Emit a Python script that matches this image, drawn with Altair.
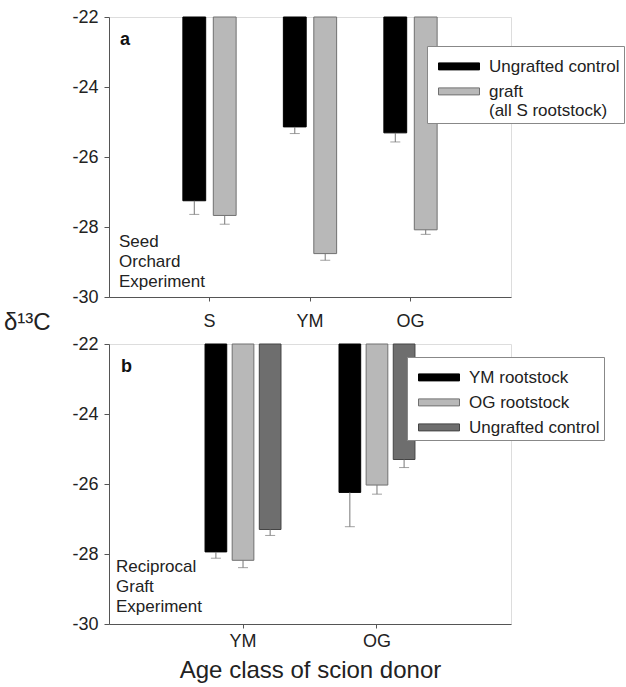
import altair as alt
import pandas as pd

FONT = "Liberation Sans"

# ---------------- Panel a: Seed Orchard Experiment ----------------
a_cats = ["S", "YM", "OG"]
a_series = ["Ungrafted control", "graft"]
a_control = [-27.25, -25.14, -25.31]
a_control_err = [0.39, 0.19, 0.26]
a_graft = [-27.67, -28.76, -28.08]
a_graft_err = [0.25, 0.19, 0.13]

# ---------------- Panel b: Reciprocal Graft Experiment ----------------
b_cats = ["YM", "OG"]
b_series = ["YM rootstock", "OG rootstock", "Ungrafted control"]
b_ym = [-27.94, -26.24]
b_ym_err = [0.18, 0.98]
b_og = [-28.18, -26.03]
b_og_err = [0.21, 0.26]
b_ctrl = [-27.30, -25.30]
b_ctrl_err = [0.17, 0.23]

BASE = -22
Y_TICKS = [-30, -28, -26, -24, -22]

rows_a = []
for i, c in enumerate(a_cats):
    rows_a.append(dict(cat=c, series=a_series[0], value=a_control[i], err=a_control[i] - a_control_err[i], base=BASE))
    rows_a.append(dict(cat=c, series=a_series[1], value=a_graft[i], err=a_graft[i] - a_graft_err[i], base=BASE))
df_a = pd.DataFrame(rows_a)

rows_b = []
for i, c in enumerate(b_cats):
    for s, v, e in zip(b_series, [b_ym, b_og, b_ctrl], [b_ym_err, b_og_err, b_ctrl_err]):
        rows_b.append(dict(cat=c, series=s, value=v[i], err=v[i] - e[i], base=BASE))
df_b = pd.DataFrame(rows_b)

W, H = 402, 280
yscale = alt.Scale(domain=[-30, -22], nice=False, zero=False)

def yaxis():
    return alt.Axis(values=Y_TICKS, title=None, grid=False, labelFontSize=18, labelFont=FONT,
                    labelColor="#222", tickSize=5, tickColor="#555", domainColor="#555",
                    labelPadding=6, labelExpr="'' + datum.value")

# wide, flat swatch; layout size kept tiny (sqrt(4) = 2 px) so rows stay compact
SWATCH = "M-20.5,4.4H20.5V11.4H-20.5Z"

def panel(df, cats, series, colors, strokes, x_pi, x_po, off_pi, legend_x, legend_y,
          label_pad, xtitle, label_expr=None):
    xscale = alt.Scale(domain=cats, paddingInner=x_pi, paddingOuter=x_po)
    xaxis = alt.Axis(title=xtitle, labelAngle=0, labelFontSize=18, labelFont=FONT, labelColor="#222",
                     tickSize=4, tickColor="#555", domainColor="#555", labelPadding=label_pad,
                     titleFontSize=24, titleFont=FONT, titleFontWeight="normal", titleColor="#222",
                     titlePadding=8)
    leg_kwargs = dict(orient="none", legendX=legend_x, legendY=legend_y, title=None,
                      labelFontSize=17, labelFont=FONT, labelColor="#222",
                      symbolType=SWATCH, symbolSize=4, symbolStrokeWidth=1,
                      symbolOffset=19.5, labelOffset=21.5, labelBaseline="top", rowPadding=0,
                      padding=4, strokeColor="#888", fillColor="white", labelLimit=300)
    if label_expr:
        leg_kwargs["labelExpr"] = label_expr
    color = alt.Color("series:N", scale=alt.Scale(domain=series, range=colors),
                      sort=series, legend=alt.Legend(**leg_kwargs))
    stroke = alt.Stroke("series:N", scale=alt.Scale(domain=series, range=strokes), legend=None)
    xo = alt.XOffset("series:N", scale=alt.Scale(domain=series, paddingInner=off_pi), sort=series)
    x = alt.X("cat:N", scale=xscale, sort=cats, axis=xaxis)

    bars = alt.Chart(df).mark_bar(strokeWidth=1).encode(
        x=x, xOffset=xo,
        y=alt.Y("value:Q", scale=yscale, axis=yaxis()),
        y2="base:Q",
        color=color, stroke=stroke,
    )
    err = alt.Chart(df).mark_rule(color="#777", strokeWidth=1).encode(
        x=x, xOffset=xo, y=alt.Y("value:Q", scale=yscale), y2="err:Q")
    cap = alt.Chart(df).mark_tick(color="#777", thickness=1, size=10).encode(
        x=x, xOffset=xo, y=alt.Y("err:Q", scale=yscale))
    return bars, err, cap

bars_a, err_a, cap_a = panel(
    df_a, a_cats, a_series, ["#000000", "#b8b8b8"], ["#000000", "#707070"],
    x_pi=0.47, x_po=0.735, off_pi=0.25, legend_x=318, legend_y=29, label_pad=11, xtitle=None,
    label_expr="datum.label == 'graft' ? ['graft', '(all S rootstock)'] : datum.label")

bars_b, err_b, cap_b = panel(
    df_b, b_cats, b_series, ["#000000", "#b8b8b8", "#6e6e6e"], ["#000000", "#707070", "#444444"],
    x_pi=0.433, x_po=0.717, off_pi=0.2, legend_x=298, legend_y=13, label_pad=4,
    xtitle="Age class of scion donor")

lab_a = alt.Chart(pd.DataFrame({"t": ["a"]})).mark_text(align="left", baseline="alphabetic", fontSize=18,
                                    fontWeight="bold", font=FONT, color="#111").encode(
    x=alt.value(11), y=alt.value(28), text="t:N")
exp_a = alt.Chart(pd.DataFrame({"t": ["Seed\nOrchard\nExperiment"]})).mark_text(
    align="left", baseline="alphabetic", fontSize=17, font=FONT, color="#222",
    lineBreak="\n", lineHeight=20).encode(x=alt.value(10), y=alt.value(229.5), text="t:N")
delta = alt.Chart(pd.DataFrame({"t": ["δ¹³C"]})).mark_text(
    align="left", baseline="alphabetic", fontSize=24, font=FONT, color="#222").encode(
    x=alt.value(-105), y=alt.value(312.5), text="t:N")

lab_b = alt.Chart(pd.DataFrame({"t": ["b"]})).mark_text(align="left", baseline="alphabetic", fontSize=18,
                                    fontWeight="bold", font=FONT, color="#111").encode(
    x=alt.value(12), y=alt.value(28), text="t:N")
exp_b = alt.Chart(pd.DataFrame({"t": ["Reciprocal\nGraft\nExperiment"]})).mark_text(
    align="left", baseline="alphabetic", fontSize=17, font=FONT, color="#222",
    lineBreak="\n", lineHeight=20).encode(x=alt.value(7), y=alt.value(228.3), text="t:N")

top = alt.layer(bars_a, err_a, cap_a, lab_a, exp_a, delta).properties(width=W, height=H)
bottom = alt.layer(bars_b, err_b, cap_b, lab_b, exp_b).properties(width=W, height=H)

chart = alt.vconcat(top, bottom, spacing=-1).resolve_scale(
    color="independent", stroke="independent", x="independent", xOffset="independent"
).resolve_legend(color="independent").properties(
    padding={"left": 3, "top": 7, "right": 0, "bottom": 0}
).configure_view(stroke="#666", strokeWidth=1).configure(background="white")

chart.save("out.html", embed_options={"renderer": "svg", "actions": False})
